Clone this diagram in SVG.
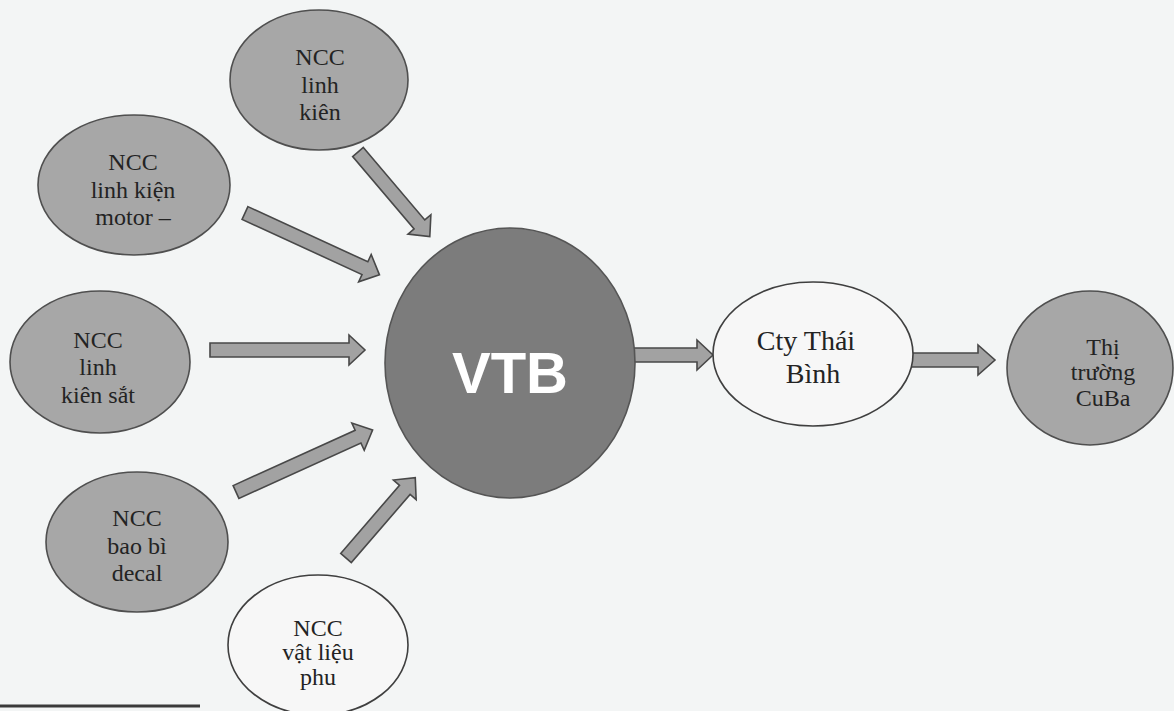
<svg xmlns="http://www.w3.org/2000/svg" width="1174" height="711" viewBox="0 0 1174 711">
<defs>
<style>
.bg{fill:#f3f5f5}
.node{fill:#a7a7a7;stroke:#4f4f4f;stroke-width:1.6}
.white{fill:#f7f7f7;stroke:#3f3f3f;stroke-width:1.6}
.core{fill:#7c7c7c;stroke:#555;stroke-width:1.6}
.lbl{font-family:"Liberation Serif","Times New Roman",serif;font-size:24px;fill:#232323;text-anchor:middle}
.cty{font-size:28px}
.big{font-family:"Liberation Sans",Arial,sans-serif;font-weight:bold;font-size:58px;fill:#ffffff;text-anchor:middle}
.arr{fill:#a2a2a2;stroke:#484848;stroke-width:1.6;stroke-linejoin:miter}
</style>
</defs>
<rect class="bg" x="0" y="0" width="1174" height="711"/>
<line x1="0" y1="706" x2="200" y2="706" stroke="#3a3a3a" stroke-width="3"/>

<g id="connectors">
  <path class="arr" d="M0,-7 L95,-7 L95,-15 L111,0 L95,15 L95,7 L0,7 Z" transform="translate(358,152) rotate(49.7)"/>
  <path class="arr" d="M0,-7 L132,-7 L132,-15 L148,0 L132,15 L132,7 L0,7 Z" transform="translate(245,213) rotate(24.7)"/>
  <path class="arr" d="M0,-7 L139,-7 L139,-15 L155,0 L139,15 L139,7 L0,7 Z" transform="translate(210,350)"/>
  <path class="arr" d="M0,-7 L134,-7 L134,-15 L150,0 L134,15 L134,7 L0,7 Z" transform="translate(236,492) rotate(-24.4)"/>
  <path class="arr" d="M0,-7 L90,-7 L90,-15 L106,0 L90,15 L90,7 L0,7 Z" transform="translate(346,558) rotate(-49.2)"/>
  <path class="arr" d="M0,-7 L72,-7 L72,-15 L88,0 L72,15 L72,7 L0,7 Z" transform="translate(625,355)"/>
  <path class="arr" d="M0,-7 L73,-7 L73,-15 L90,0 L73,15 L73,7 L0,7 Z" transform="translate(905,360)"/>
</g>

<g id="ncc-linh-kien">
  <ellipse class="node" cx="319" cy="80" rx="89" ry="70"/>
  <text class="lbl" x="320" y="65">NCC</text>
  <text class="lbl" x="320" y="93">linh</text>
  <text class="lbl" x="320" y="120">kiên</text>
</g>

<g id="ncc-linh-kien-motor">
  <ellipse class="node" cx="134" cy="185" rx="96" ry="70"/>
  <text class="lbl" x="133" y="170">NCC</text>
  <text class="lbl" x="133" y="198">linh kiện</text>
  <text class="lbl" x="133" y="225">motor –</text>
</g>

<g id="ncc-linh-kien-sat">
  <ellipse class="node" cx="100" cy="362" rx="90" ry="71"/>
  <text class="lbl" x="98" y="348">NCC</text>
  <text class="lbl" x="98" y="375">linh</text>
  <text class="lbl" x="98" y="403">kiên sắt</text>
</g>

<g id="ncc-bao-bi-decal">
  <ellipse class="node" cx="137" cy="542" rx="91" ry="70"/>
  <text class="lbl" x="137" y="526">NCC</text>
  <text class="lbl" x="137" y="554">bao bì</text>
  <text class="lbl" x="137" y="581">decal</text>
</g>

<g id="ncc-vat-lieu-phu">
  <ellipse class="white" cx="318" cy="645" rx="90" ry="70"/>
  <text class="lbl" x="318" y="636">NCC</text>
  <text class="lbl" x="318" y="660">vật liệu</text>
  <text class="lbl" x="318" y="685">phu</text>
</g>

<g id="vtb">
  <ellipse class="core" cx="510" cy="363" rx="125" ry="135"/>
  <text class="big" x="510" y="393">VTB</text>
</g>

<g id="cty-thai-binh">
  <ellipse class="white" cx="813" cy="354" rx="100" ry="72"/>
  <text class="lbl cty" x="806" y="350">Cty Thái</text>
  <text class="lbl cty" x="813" y="383">Bình</text>
</g>

<g id="thi-truong-cuba">
  <ellipse class="node" cx="1090" cy="368" rx="83" ry="77"/>
  <text class="lbl" x="1103" y="355">Thị</text>
  <text class="lbl" x="1103" y="380">trường</text>
  <text class="lbl" x="1103" y="406">CuBa</text>
</g>
</svg>
